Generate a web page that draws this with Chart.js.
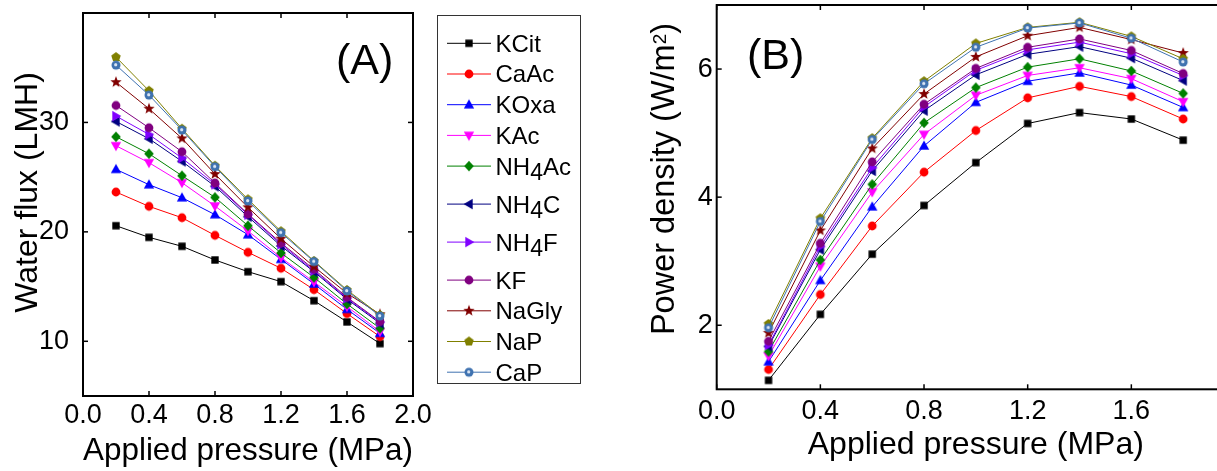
<!DOCTYPE html>
<html><head><meta charset="utf-8">
<script src="https://cdn.jsdelivr.net/npm/chart.js@4.4.0/dist/chart.umd.min.js"></script>
<style>
html,body{margin:0;padding:0;background:#fff;overflow:hidden;width:1217px;height:471px;}
#wa{position:absolute;left:0;top:0;width:600px;height:471px;}
#wb{position:absolute;left:600px;top:0;width:660px;height:471px;}
</style></head><body>
<div id="wa"><canvas id="ca"></canvas></div>
<div id="wb"><canvas id="cb"></canvas></div>
<script>
// ---------- data ----------
const pressures = [0.2, 0.4, 0.6, 0.8, 1.0, 1.2, 1.4, 1.6, 1.8];
const seriesNames = ['KCit','CaAc','KOxa','KAc','NH4Ac','NH4C','NH4F','KF','NaGly','NaP','CaP'];

// Panel A: water flux (LMH)
const fluxKCit  = [20.56, 19.50, 18.68, 17.43, 16.36, 15.45, 13.71, 11.77, 9.79];
const fluxCaAc  = [23.64, 22.33, 21.29, 19.68, 18.13, 16.67, 14.72, 12.53, 10.43];
const fluxKOxa  = [25.71, 24.31, 23.12, 21.57, 19.74, 17.49, 15.24, 12.92, 10.73];
const fluxKAc   = [27.87, 26.32, 24.49, 22.36, 20.08, 17.64, 15.42, 13.17, 10.88];
const fluxNH4Ac = [28.69, 27.14, 25.13, 23.15, 20.56, 18.07, 15.84, 13.41, 11.19];
const fluxNH4C  = [30.09, 28.51, 26.44, 24.16, 21.39, 18.71, 16.36, 13.84, 11.64];
const fluxNH4F  = [30.58, 28.90, 26.74, 24.34, 21.57, 18.86, 16.45, 13.93, 11.74];
const fluxKF    = [31.55, 29.51, 27.32, 24.46, 21.63, 18.98, 16.58, 14.02, 11.80];
const fluxNaGly = [33.68, 31.25, 28.54, 25.28, 22.24, 19.38, 16.82, 14.38, 12.47];
const fluxNaP   = [35.97, 32.89, 29.42, 26.04, 22.97, 20.05, 17.34, 14.69, 12.40];
const fluxCaP   = [35.24, 32.50, 29.30, 25.95, 22.82, 19.92, 17.28, 14.60, 12.31];

// Panel B: power density (W/m2)
const powKCit  = [1.14, 2.17, 3.11, 3.87, 4.54, 5.15, 5.32, 5.22, 4.89];
const powCaAc  = [1.31, 2.48, 3.55, 4.39, 5.04, 5.55, 5.73, 5.57, 5.22];
const powKOxa  = [1.43, 2.70, 3.85, 4.80, 5.48, 5.81, 5.94, 5.75, 5.40];
const powKAc   = [1.52, 2.92, 4.08, 4.98, 5.59, 5.90, 6.02, 5.85, 5.49];
const powNH4Ac = [1.59, 3.02, 4.20, 5.16, 5.71, 6.03, 6.16, 5.97, 5.62];
const powNH4C  = [1.67, 3.18, 4.41, 5.35, 5.91, 6.23, 6.35, 6.17, 5.82];
const powNH4F  = [1.69, 3.23, 4.46, 5.41, 5.98, 6.30, 6.42, 6.24, 5.90];
const powKF    = [1.75, 3.28, 4.55, 5.45, 6.01, 6.34, 6.47, 6.29, 5.93];
const powNaGly = [1.88, 3.48, 4.76, 5.61, 6.19, 6.52, 6.65, 6.46, 6.25];
const powNaP   = [2.02, 3.67, 4.92, 5.81, 6.40, 6.65, 6.73, 6.51, 6.16];
const powCaP   = [1.96, 3.62, 4.90, 5.77, 6.34, 6.64, 6.72, 6.48, 6.11];

const fluxSeries  = [fluxKCit, fluxCaAc, fluxKOxa, fluxKAc, fluxNH4Ac, fluxNH4C, fluxNH4F, fluxKF, fluxNaGly, fluxNaP, fluxCaP];
const powerSeries = [powKCit, powCaAc, powKOxa, powKAc, powNH4Ac, powNH4C, powNH4F, powKF, powNaGly, powNaP, powCaP];

// ---------- styles ----------
const seriesColors  = ['#000000','#ff0000','#0000ff','#ff00ff','#008000','#000080','#8000ff','#800080','#800000','#808000','#3f72b0'];
const seriesMarkers = ['square','circle','triUp','triDown','diamond','triLeft','triRight','circle','star','pentagon','sphere'];
const FONT = "'Liberation Sans', Arial, Helvetica, sans-serif";

function makeMarker(type, color) {
  const s = 16, c = document.createElement('canvas');
  c.width = s; c.height = s;
  const g = c.getContext('2d');
  g.translate(s / 2, s / 2);
  g.fillStyle = color;
  const poly = pts => { g.beginPath(); pts.forEach((p, i) => i ? g.lineTo(p[0], p[1]) : g.moveTo(p[0], p[1])); g.closePath(); g.fill(); };
  const regular = (n, rOut, rIn) => {
    const pts = [];
    const k = rIn ? 2 * n : n;
    for (let i = 0; i < k; i++) {
      const r = rIn ? (i % 2 ? rIn : rOut) : rOut;
      const a = -Math.PI / 2 + i * 2 * Math.PI / k;
      pts.push([r * Math.cos(a), r * Math.sin(a)]);
    }
    poly(pts);
  };
  switch (type) {
    case 'square': g.fillRect(-3.7, -3.7, 7.4, 7.4); break;
    case 'circle': g.beginPath(); g.arc(0, 0, 4.4, 0, 2 * Math.PI); g.fill(); break;
    case 'triUp': poly([[0, -5.4], [5.2, 3.7], [-5.2, 3.7]]); break;
    case 'triDown': poly([[0, 5.4], [5.2, -3.7], [-5.2, -3.7]]); break;
    case 'triLeft': poly([[-5.4, 0], [3.7, -5.2], [3.7, 5.2]]); break;
    case 'triRight': poly([[5.4, 0], [-3.7, -5.2], [-3.7, 5.2]]); break;
    case 'diamond': poly([[0, -5.2], [4.8, 0], [0, 5.2], [-4.8, 0]]); break;
    case 'star': regular(5, 6, 2.5); break;
    case 'pentagon': regular(5, 5, 0); break;
    case 'sphere':
      g.beginPath(); g.arc(0, 0, 4.5, 0, 2 * Math.PI); g.fill();
      g.fillStyle = '#dbe6f4'; g.beginPath(); g.arc(-0.3, -0.3, 1.6, 0, 2 * Math.PI); g.fill();
      break;
  }
  return c;
}
const markerImgs = seriesMarkers.map((m, i) => makeMarker(m, seriesColors[i]));

function buildDatasets(seriesList) {
  return seriesList.map((vals, i) => ({
    label: seriesNames[i],
    data: pressures.map((x, j) => ({ x: x, y: vals[j] })),
    borderColor: seriesColors[i],
    backgroundColor: seriesColors[i],
    borderWidth: 1,
    pointStyle: markerImgs[i],
    pointRadius: 5,
    pointHoverRadius: 5,
    tension: 0,
    order: seriesList.length - i,
    clip: false
  }));
}

const isMult = (v, s) => Math.abs(v / s - Math.round(v / s)) < 1e-6;

// frame with inward ticks on all four sides + y title + panel letter
const framePlugin = {
  id: 'frame',
  afterDraw(chart, args, o) {
    const { ctx, chartArea: a, scales } = chart;
    const x = scales.x, y = scales.y;
    ctx.save();
    ctx.strokeStyle = '#000';
    ctx.lineWidth = 1.5;
    const seg = (x0, y0, x1, y1) => { ctx.beginPath(); ctx.moveTo(x0, y0); ctx.lineTo(x1, y1); ctx.stroke(); };
    x.ticks.forEach(t => {
      const px = x.getPixelForValue(t.value);
      const L = isMult(t.value, o.xMajor) ? 5 : 3;
      seg(px, a.bottom, px, a.bottom - L);
      seg(px, a.top, px, a.top + L);
    });
    y.ticks.forEach(t => {
      const py = y.getPixelForValue(t.value);
      const L = isMult(t.value, o.yMajor) ? 5 : 3.5;
      seg(a.left, py, a.left + L, py);
      seg(a.right, py, a.right - L, py);
    });
    ctx.lineWidth = 2;
    ctx.strokeRect(a.left, a.top, a.right - a.left, a.bottom - a.top);

    // y-axis title (rotated), with optional superscript part
    ctx.fillStyle = '#000';
    ctx.translate(o.yTitle.x, o.yTitle.y);
    ctx.rotate(-Math.PI / 2);
    ctx.textBaseline = 'alphabetic';
    ctx.textAlign = 'left';
    const parts = o.yTitle.parts;
    let total = 0;
    parts.forEach(p => { ctx.font = p.size + 'px ' + FONT; p.w = ctx.measureText(p.text).width; total += p.w; });
    let cx = -total / 2;
    parts.forEach(p => { ctx.font = p.size + 'px ' + FONT; ctx.fillText(p.text, cx, -(p.rise || 0)); cx += p.w; });
    ctx.setTransform(1, 0, 0, 1, 0, 0);

    // panel letter
    ctx.font = '43px ' + FONT;
    ctx.textAlign = 'left';
    ctx.fillText(o.letter.text, o.letter.x, o.letter.y);
    ctx.restore();
  }
};

// boxed legend (panel A canvas)
const legendPlugin = {
  id: 'boxLegend',
  afterDraw(chart, args, o) {
    if (!o.show) return;
    const ctx = chart.ctx;
    ctx.save();
    ctx.strokeStyle = '#333';
    ctx.lineWidth = 1;
    ctx.strokeRect(o.left + 0.5, o.top + 0.5, o.width, o.height);
    let yy = o.firstY, prevSub = false;
    chart.data.datasets.forEach((ds, i) => {
      if (i > 0) yy += o.rowGap + (prevSub ? o.subExtra : 0);
      ctx.strokeStyle = ds.borderColor;
      ctx.lineWidth = 1;
      ctx.beginPath(); ctx.moveTo(o.lineX0, yy); ctx.lineTo(o.lineX1, yy); ctx.stroke();
      const img = ds.pointStyle;
      ctx.drawImage(img, (o.lineX0 + o.lineX1) / 2 - img.width / 2, yy - img.height / 2);
      ctx.fillStyle = '#000';
      ctx.textBaseline = 'alphabetic';
      ctx.textAlign = 'left';
      let tx = o.textX;
      const hasSub = /\d/.test(ds.label);
      ds.label.split(/(\d)/).forEach(p => {
        if (!p) return;
        const sub = /\d/.test(p);
        ctx.font = (sub ? 23 : 24) + 'px ' + FONT;
        ctx.fillText(p, tx, yy + o.baseOff + (sub ? 5 : 0));
        tx += ctx.measureText(p).width;
      });
      prevSub = hasSub;
    });
    ctx.restore();
  }
};

function makeChart(id, datasets, cfg) {
  return new Chart(document.getElementById(id), {
    type: 'line',
    data: { datasets: datasets },
    plugins: [framePlugin, legendPlugin],
    options: {
      responsive: true,
      maintainAspectRatio: false,
      animation: false,
      events: [],
      layout: { autoPadding: false, padding: { left: 0, top: cfg.padTop, right: cfg.padRight, bottom: 0 } },
      plugins: {
        legend: { display: false },
        title: { display: false },
        tooltip: { enabled: false },
        frame: cfg.frame,
        boxLegend: cfg.legend
      },
      scales: {
        x: {
          type: 'linear', min: 0, max: 2,
          grid: { display: false, drawTicks: false },
          border: { display: false },
          ticks: {
            stepSize: 0.2, padding: cfg.xPad, color: '#000', maxRotation: 0, autoSkip: false,
            font: { family: FONT, size: 27 },
            callback: v => (isMult(v, 0.4) && v <= cfg.xLabelMax + 1e-9) ? v.toFixed(1) : null
          },
          title: { display: true, text: 'Applied pressure (MPa)', color: '#000',
                   font: { family: FONT, size: 32 }, padding: { top: 0, bottom: cfg.xTitlePad } },
          afterFit: s => { s.height = cfg.xAxisH; s.paddingLeft = 0; s.paddingRight = 0; s.paddingTop = 0; s.paddingBottom = 0; }
        },
        y: {
          type: 'linear', min: cfg.yMin, max: cfg.yMax,
          grid: { display: false, drawTicks: false },
          border: { display: false },
          ticks: {
            stepSize: cfg.yStep, padding: cfg.yPad, color: '#000', autoSkip: false,
            font: { family: FONT, size: 27 },
            callback: cfg.yLabel
          },
          afterFit: s => { s.width = cfg.yAxisW; s.paddingTop = 0; s.paddingBottom = 0; s.paddingLeft = 0; s.paddingRight = 0; }
        }
      }
    }
  });
}

makeChart('ca', buildDatasets(fluxSeries), {
  padTop: 13, padRight: 187, xAxisH: 75, yAxisW: 83, xPad: 3, yPad: 14, xTitlePad: 1,
  xLabelMax: 2.0, yMin: 5, yMax: 40, yStep: 5,
  yLabel: v => (isMult(v, 10) && v >= 10 && v <= 30) ? String(v) : null,
  frame: { xMajor: 0.4, yMajor: 10,
           yTitle: { x: 37, y: 192.5, parts: [{ text: 'Water flux (LMH)', size: 32 }] },
           letter: { text: '(A)', x: 336, y: 73.5 } },
  legend: { show: true, left: 437, top: 15, width: 143, height: 368,
            firstY: 43.3, rowGap: 30.7, subExtra: 7.3, lineX0: 447, lineX1: 491, textX: 495.5, baseOff: 8.4 }
});

makeChart('cb', buildDatasets(powerSeries), {
  padTop: 5, padRight: 25, xAxisH: 81.7, yAxisW: 116.7, xPad: 6, yPad: 4, xTitlePad: 7,
  xLabelMax: 1.6, yMin: 1, yMax: 7, yStep: 1,
  yLabel: v => (isMult(v, 2)) ? String(v) : null,
  frame: { xMajor: 0.4, yMajor: 2,
           yTitle: { x: 73.5, y: 179, parts: [{ text: 'Power density (W/m', size: 32.5 }, { text: '2', size: 19, rise: 7.5 }, { text: ')', size: 32.5 }] },
           letter: { text: '(B)', x: 147, y: 69 } },
  legend: { show: false }
});
</script>
</body></html>
